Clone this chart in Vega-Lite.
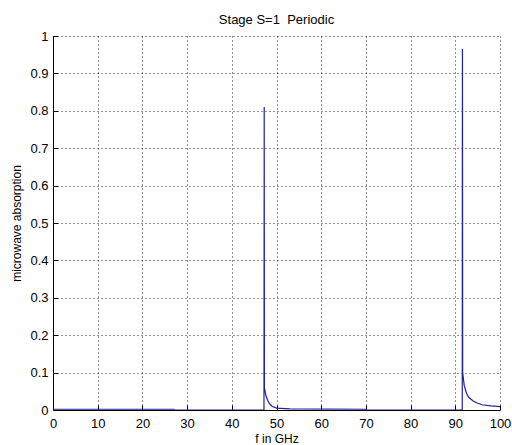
{
  "$schema": "https://vega.github.io/schema/vega-lite/v6.json",
  "width": 447,
  "height": 374,
  "autosize": "none",
  "padding": {"left": 53, "top": 36, "right": 12, "bottom": 35},
  "background": "white",
  "title": {"text": "Stage S=1\u00a0 Periodic", "font": "Liberation Sans", "fontSize": 13, "fontWeight": "normal", "color": "#000", "offset": 3, "anchor": "middle"},
  "config": {
    "view": {"stroke": null},
    "axis": {
      "labelFont": "Liberation Sans", "labelFontSize": 13, "labelColor": "#000",
      "titleFont": "Liberation Sans", "titleFontSize": 12, "titleFontWeight": "normal", "titleColor": "#000",
      "domainColor": "#000", "domainWidth": 1,
      "tickColor": "#000", "tickSize": -5, "tickWidth": 1,
      "grid": true, "gridColor": "#000", "gridDash": [1, 3], "gridOpacity": 0.85, "gridWidth": 1
    }
  },
  "data": {
    "values": [
      {"f": 0, "a": 0.002},
      {"f": 27, "a": 0.002},
      {"f": 27.1, "a": 0.0},
      {"f": 47.2, "a": 0.0},
      {"f": 47.25, "a": 0.81},
      {"f": 47.3, "a": 0.06},
      {"f": 47.6, "a": 0.04},
      {"f": 48.0, "a": 0.026},
      {"f": 48.5, "a": 0.016},
      {"f": 49.0, "a": 0.01},
      {"f": 50.0, "a": 0.005},
      {"f": 53.0, "a": 0.003},
      {"f": 70.0, "a": 0.002},
      {"f": 70.1, "a": 0.0},
      {"f": 91.55, "a": 0.0},
      {"f": 91.6, "a": 0.965},
      {"f": 91.65, "a": 0.1},
      {"f": 92.0, "a": 0.065},
      {"f": 92.5, "a": 0.045},
      {"f": 93.0, "a": 0.034},
      {"f": 94.0, "a": 0.024},
      {"f": 95.0, "a": 0.018},
      {"f": 96.0, "a": 0.014},
      {"f": 98.0, "a": 0.011},
      {"f": 100.0, "a": 0.009}
    ]
  },
  "mark": {"type": "line", "color": "#22229a", "strokeWidth": 1.2, "clip": true},
  "encoding": {
    "x": {"field": "f", "type": "quantitative", "scale": {"domain": [0, 100], "nice": false},
      "axis": {"values": [0,10,20,30,40,50,60,70,80,90,100], "format": "d", "title": "f in GHz", "labelPadding": 12, "titlePadding": 3, "labelFlush": false}},
    "y": {"field": "a", "type": "quantitative", "scale": {"domain": [0, 1], "nice": false},
      "axis": {"values": [0,0.1,0.2,0.3,0.4,0.5,0.6,0.7,0.8,0.9,1], "format": "~g", "title": "microwave absorption", "labelPadding": 10, "titlePadding": 6, "labelFlush": false}}
  }
}
